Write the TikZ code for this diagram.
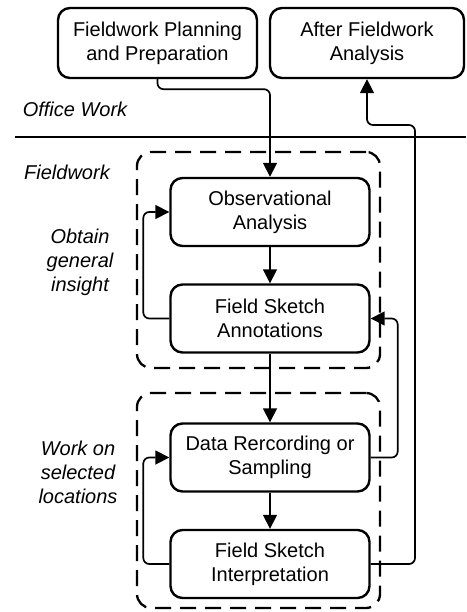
\documentclass[tikz,border=0pt]{standalone}
\usepackage{fontspec}
\setmainfont{Liberation Sans}
\usetikzlibrary{positioning,calc,arrows,arrows.meta}
\tikzset{font=\fontsize{20}{24}\selectfont}

\begin{document}
\begin{tikzpicture}[x=1pt,y=-1pt]
	\useasboundingbox (0,0) rectangle (466,612);
	\begin{scope}
		\tikzstyle{every node}=[align=center, inner sep=1pt]
		\tikzstyle{stage}=[draw, line width=2.4pt, rounded corners=12pt, minimum width=199pt, minimum height=68pt]
		\tikzstyle{group}=[draw, line width=2.3pt, rounded corners=14pt, dash pattern=on 16pt off 9pt, minimum width=243pt]
		\tikzstyle{arr}=[line width=1.7pt, rounded corners=6pt, -{Triangle[length=14pt,width=14pt]}]

		\node[group, minimum height=216pt] (general) at (258.5, 260) {};
		\node[group, minimum height=215pt] (selected) at (258.5, 500.5) {};

		\node[stage, minimum height=70pt] (plan) at (157.5, 43) {Fieldwork Planning\\and Preparation};
		\node[stage, minimum width=194pt, minimum height=70pt] (after) at (367, 43) {After Fieldwork\\Analysis};
		\node[stage] (obs) at (270, 212) {Observational\\Analysis};
		\node[stage] (fsa) at (270, 318.5) {Field Sketch\\Annotations};
		\node[stage] (data) at (270, 457.5) {Data Rercording or\\Sampling};
		\node[stage] (fsi) at (270, 564) {Field Sketch\\Interpretation};

		\node (office) at (75, 109) {\itshape Office Work};
		\node (field) at (67, 172) {\itshape Fieldwork};
		\node (insight) at (80, 262) {\itshape Obtain\\\itshape general\\\itshape insight};
		\node (locations) at (78, 472) {\itshape Work on\\\itshape selected\\\itshape locations};

		\coordinate (sepl) at (15, 137);
		\coordinate (sepr) at (466, 137);
		\coordinate (turn) at (415, 125);
		\draw[line width=2pt] (sepl) -- (sepr);

		\draw[arr] (plan.south) -- ++(0,10) -| (obs.north);
		\draw[arr] (obs) -- (fsa);
		\draw[arr] (fsa) -- (data);
		\draw[arr] (data) -- (fsi);
		\draw[arr] (fsa.west) -- ++(-26,0) |- (obs.west);
		\draw[arr] (fsi.west) -- ++(-26,0) |- (data.west);
		\draw[arr] (data.east) -- ++(27,0) |- (fsa.east);
		\draw[arr] (fsi.east) -| (turn) -| (after.south);

	\end{scope}
\end{tikzpicture}
\end{document}
